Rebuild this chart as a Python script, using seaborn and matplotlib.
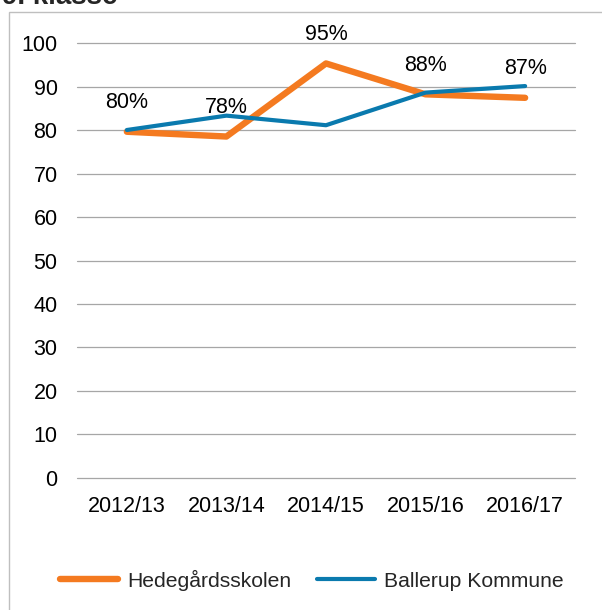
import pandas as pd
import seaborn as sns
import matplotlib.pyplot as plt
from matplotlib.patches import Rectangle

years = ['2012/13', '2013/14', '2014/15', '2015/16', '2016/17']
hedegaard = [79.6, 78.5, 95.3, 88.2, 87.4]
ballerup = [80.0, 83.3, 81.1, 88.6, 90.1]
value_labels = ['80%', '78%', '95%', '88%', '87%']

sns.set_theme(style='white')
plt.rcParams['font.family'] = ['Liberation Sans', 'DejaVu Sans']

df = pd.DataFrame({'year': years, 'Hedegårdsskolen': hedegaard, 'Ballerup Kommune': ballerup})

fig = plt.figure(figsize=(6.02, 6.10), dpi=100)
ax = fig.add_axes([0.128, 0.2164, 0.827, 0.7131])

sns.lineplot(data=df, x='year', y='Hedegårdsskolen', ax=ax, color='#F47A20',
             lw=4.6, label='Hedegårdsskolen', sort=False)
sns.lineplot(data=df, x='year', y='Ballerup Kommune', ax=ax, color='#0A7AAE',
             lw=3.0, label='Ballerup Kommune', sort=False)

for i, txt in enumerate(value_labels):
    ax.annotate(txt, (i, hedegaard[i]), xytext=(0, 21), textcoords='offset points',
                ha='center', va='center', fontsize=15.5, color='black')

ax.set_ylim(0, 100)
ax.set_yticks(range(0, 101, 10))
ax.set_xlim(-0.5, 4.5)
ax.yaxis.grid(True, color='#A6A6A6', lw=0.9)
ax.xaxis.grid(False)
ax.set_axisbelow(True)
for g in ax.get_ygridlines():
    g.set_clip_on(False)
for s in ax.spines.values():
    s.set_visible(False)
ax.set_xlabel('')
ax.set_ylabel('')
ax.tick_params(axis='y', labelsize=15.5, pad=14, length=0, colors='black')
ax.tick_params(axis='x', labelsize=15.5, pad=13, length=0, colors='black')

handles, labels = ax.get_legend_handles_labels()
ax.get_legend().remove()
fig.legend(handles, labels, loc='center', bbox_to_anchor=(0.518, 0.049), ncol=2,
           frameon=False, fontsize=15.2, handlelength=2.75, handletextpad=0.45,
           columnspacing=1.2)

# outer chart-area border (cropped on the right and bottom)
fig.patches.append(Rectangle((9 / 602, -0.1), 1.2, 1 - 12 / 610 + 0.1,
                             transform=fig.transFigure, fill=False,
                             edgecolor='#BFBFBF', lw=1.0))

fig.text(0.004, 1 - 4 / 610, '9. klasse', fontsize=20, fontweight='bold',
         ha='left', va='baseline')

fig.savefig('out.png', dpi=100)
